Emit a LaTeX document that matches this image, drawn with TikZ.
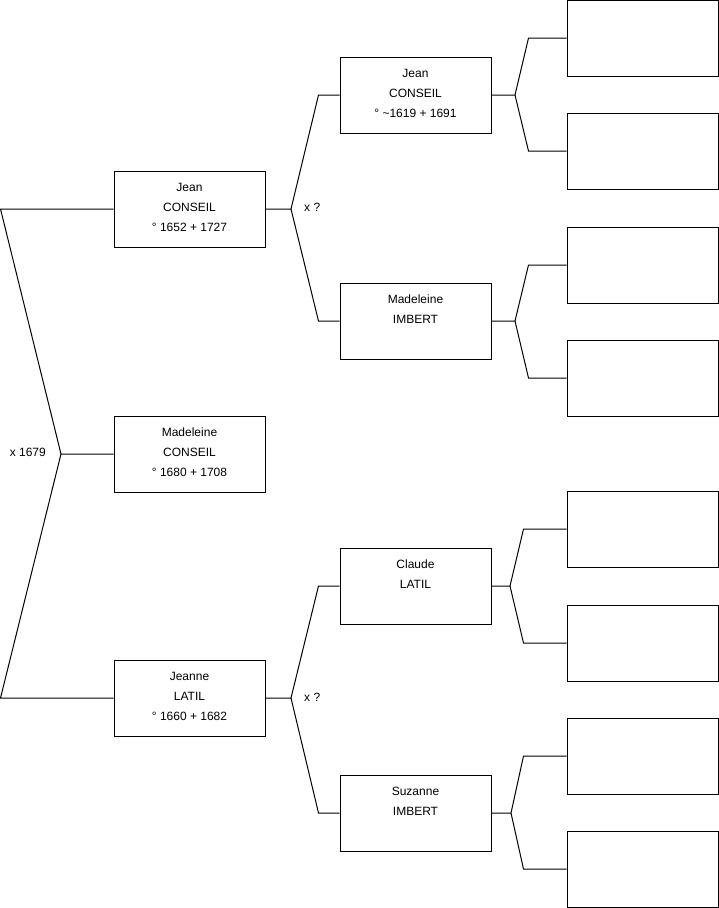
\documentclass[tikz,border=0pt]{standalone}
\usepackage{fontspec}
\setmainfont{Liberation Sans}
\usetikzlibrary{positioning}
\newcommand{\card}[1]{\parbox[c][76pt][t]{151pt}{\centering\rule{0pt}{20.5pt}#1}}

\begin{document}
\begin{tikzpicture}[
  x=1pt, y=-1pt,
  every node/.style={font=\fontsize{12}{20}\selectfont},
  person/.style={draw, line width=1pt, inner sep=0pt, minimum width=151pt, minimum height=76pt},
  link/.style={line width=1pt},
  union/.style={inner sep=0pt, font=\fontsize{12}{14}\selectfont}
]
\useasboundingbox (0,0) rectangle (719,908);
% first generation
\node[person] (jean) at (189.5,209) {\card{Jean\\CONSEIL\\° 1652 + 1727}};
\node[person] (madeleine) at (189.5,454) {\card{Madeleine\\CONSEIL\\° 1680 + 1708}};
\node[person] (jeanne) at (189.5,698) {\card{Jeanne\\LATIL\\° 1660 + 1682}};
% second generation
\node[person] (jeanF) at (415.5,95) {\card{Jean\\CONSEIL\\° {\textasciitilde}1619 + 1691}};
\node[person] (madeleineI) at (415.5,321) {\card{Madeleine\\IMBERT}};
\node[person] (claude) at (415.5,586) {\card{Claude\\LATIL}};
\node[person] (suzanne) at (415.5,813) {\card{Suzanne\\IMBERT}};
% third generation, unknown
\node[person] (jeanFF) at (642.5,38) {};
\node[person] (jeanFM) at (642.5,151) {};
\node[person] (madeleineIF) at (642.5,265) {};
\node[person] (madeleineIM) at (642.5,378) {};
\node[person] (claudeF) at (642.5,529) {};
\node[person] (claudeM) at (642.5,643) {};
\node[person] (suzanneF) at (642.5,756) {};
\node[person] (suzanneM) at (642.5,869) {};
% forks
\coordinate (xM) at (61,454);
\coordinate (xJ) at (291,209);
\coordinate (xL) at (291,698);
\coordinate (xJF) at (515,95);
\coordinate (xMI) at (515,321);
\coordinate (xC) at (510,586);
\coordinate (xS) at (511,813);
\node[union, left=15pt of xM, yshift=2pt] (mM) {x 1679};
\node[union, right=13pt of xJ, yshift=2pt] (mJ) {x ?};
\node[union, right=13pt of xL, yshift=1pt] (mL) {x ?};
\draw[link] (madeleine.west) -- (xM) -- ([xshift=-113pt]jean.west) -- (jean.west);
\draw[link] (xM) -- ([xshift=-113pt]jeanne.west) -- (jeanne.west);
\draw[link] (jean.east) -- (xJ) -- ([xshift=-21pt]jeanF.west) -- (jeanF.west);
\draw[link] (xJ) -- ([xshift=-21pt]madeleineI.west) -- (madeleineI.west);
\draw[link] (jeanne.east) -- (xL) -- ([xshift=-21pt]claude.west) -- (claude.west);
\draw[link] (xL) -- ([xshift=-21pt]suzanne.west) -- (suzanne.west);
\draw[link] (jeanF.east) -- (xJF) -- ([xshift=-38pt]jeanFF.west) -- (jeanFF.west);
\draw[link] (xJF) -- ([xshift=-38pt]jeanFM.west) -- (jeanFM.west);
\draw[link] (madeleineI.east) -- (xMI) -- ([xshift=-38pt]madeleineIF.west) -- (madeleineIF.west);
\draw[link] (xMI) -- ([xshift=-38pt]madeleineIM.west) -- (madeleineIM.west);
\draw[link] (claude.east) -- (xC) -- ([xshift=-43pt]claudeF.west) -- (claudeF.west);
\draw[link] (xC) -- ([xshift=-43pt]claudeM.west) -- (claudeM.west);
\draw[link] (suzanne.east) -- (xS) -- ([xshift=-43pt]suzanneF.west) -- (suzanneF.west);
\draw[link] (xS) -- ([xshift=-43pt]suzanneM.west) -- (suzanneM.west);
\end{tikzpicture}
\end{document}
